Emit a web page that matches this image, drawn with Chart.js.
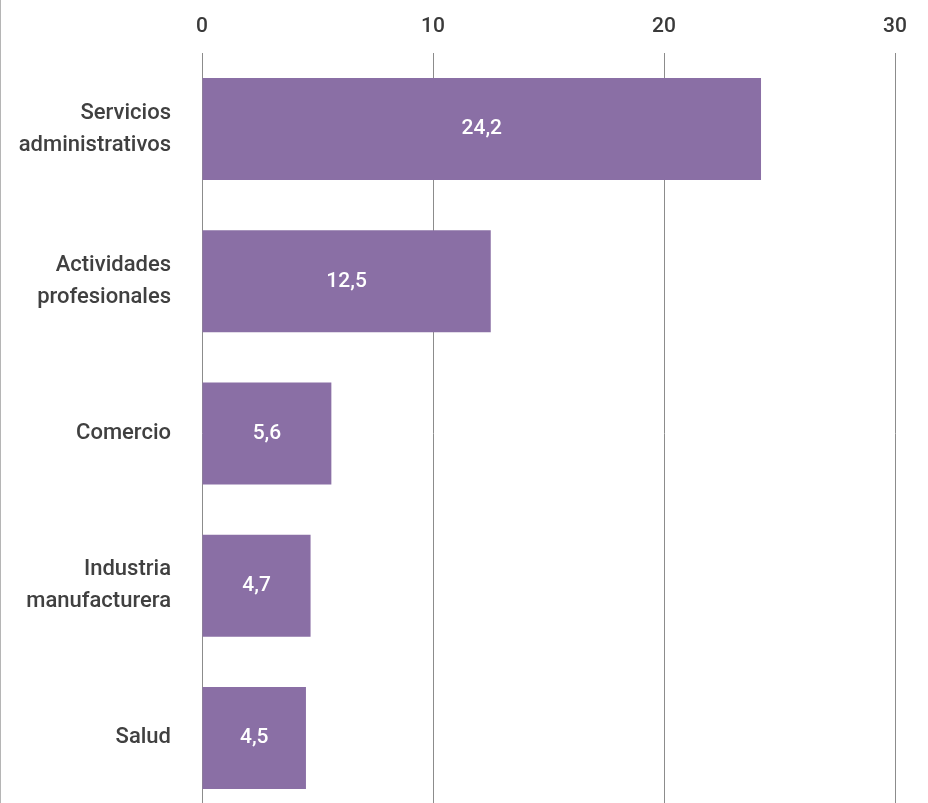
<!DOCTYPE html>
<html><head><meta charset="utf-8">
<script src="https://cdn.jsdelivr.net/npm/chart.js@4"></script>
<style>
html,body{margin:0;padding:0;background:#fff;overflow:hidden;}
#wrap{position:relative;width:928px;height:814px;}
#edge{position:absolute;left:0;top:0;width:1px;height:803px;background:#b5b5b5;}
</style></head>
<body>
<div id="wrap"><canvas id="c" width="928" height="814"></canvas><div id="edge"></div></div>
<script>
const categories = [["Servicios","administrativos"],["Actividades","profesionales"],"Comercio",["Industria","manufacturera"],"Salud"];
const values = [24.2, 12.5, 5.6, 4.7, 4.5];
const valueLabels = ["24,2","12,5","5,6","4,7","4,5"];
const xTicks = [0, 10, 20, 30];

const FONT = "Roboto, 'DejaVu Sans', sans-serif";

const barLabels = {
  id: 'barLabels',
  afterDatasetsDraw(chart) {
    const ctx = chart.ctx;
    const meta = chart.getDatasetMeta(0);
    ctx.save();
    ctx.fillStyle = '#ffffff';
    ctx.font = '500 21px ' + FONT;
    ctx.textAlign = 'center';
    ctx.textBaseline = 'middle';
    meta.data.forEach((bar, i) => {
      const cx = (bar.x + bar.base) / 2;
      ctx.fillText(valueLabels[i], cx, bar.y);
    });
    ctx.restore();
  }
};

new Chart(document.getElementById('c'), {
  type: 'bar',
  data: {
    labels: categories,
    datasets: [{
      data: values,
      backgroundColor: '#8a6fa5',
      barPercentage: 0.67,
      categoryPercentage: 1
    }]
  },
  options: {
    indexAxis: 'y',
    responsive: false,
    animation: false,
    layout: { padding: { left: 0, top: 0, bottom: 0, right: 33 } },
    plugins: { legend: { display: false }, tooltip: { enabled: false } },
    scales: {
      x: {
        position: 'top',
        min: 0, max: 30,
        afterBuildTicks(scale) { scale.ticks = xTicks.map(v => ({ value: v })); },
        afterFit(scale) { scale.height = 53; scale.paddingLeft = 0; scale.paddingRight = 0; },
        grid: { color: '#8c8c8c', lineWidth: 1, drawTicks: false },
        border: { display: false },
        ticks: { color: '#3a3a3a', font: { family: FONT, size: 21, weight: '500' }, padding: 14 }
      },
      y: {
        afterFit(scale) { scale.width = 202; scale.paddingTop = 0; scale.paddingBottom = 0; },
        grid: { display: false, drawTicks: false },
        border: { display: false },
        ticks: { color: '#404040', font: { family: FONT, size: 22, weight: '500', lineHeight: 1.46 }, padding: 31 }
      }
    }
  },
  plugins: [barLabels]
});
</script>
</body></html>
